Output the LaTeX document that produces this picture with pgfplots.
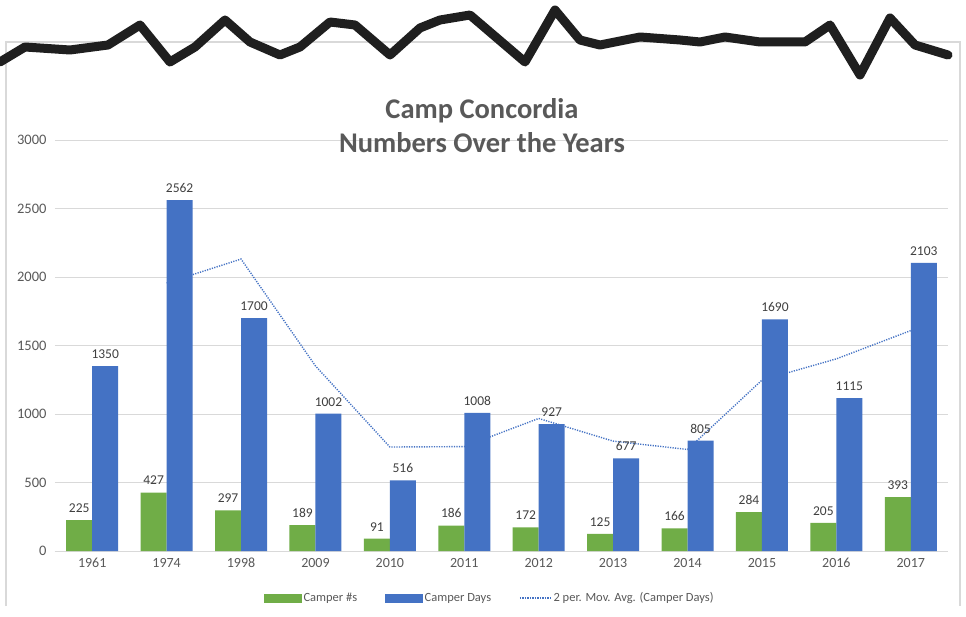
\documentclass[border=0pt]{standalone}
\usepackage{pgfplots}
\pgfplotsset{compat=1.18}
\usepackage{fontspec}
\setmainfont{Carlito}
\definecolor{cgreen}{HTML}{70AD47}
\definecolor{cblue}{HTML}{4472C4}
\definecolor{ctext}{HTML}{595959}
\definecolor{cdark}{HTML}{404040}
\definecolor{cgrid}{HTML}{D9D9D9}
\begin{document}
\begin{tikzpicture}
\useasboundingbox (0,0) rectangle (966pt,616pt);
\fill[white] (0,0) rectangle (966pt,616pt);
\draw[cgrid, line width=1.2pt] (6pt,10pt) -- (6pt,574pt) -- (960pt,574pt) -- (960pt,10pt);
\begin{axis}[
  at={(55pt,65pt)}, anchor=south west,
  scale only axis, width=893pt, height=411pt,
  xmin=-0.5, xmax=11.5, ymin=0, ymax=3000,
  xtick={0,...,11},
  xticklabels={1961,1974,1998,2009,2010,2011,2012,2013,2014,2015,2016,2017},
  ytick={0,500,1000,1500,2000,2500,3000},
  ymajorgrids, grid style={cgrid, line width=0.8pt},
  axis x line*=bottom, axis y line*=left,
  y axis line style={draw=none},
  x axis line style={cgrid, line width=0.8pt, -},
  tick style={draw=none},
  yticklabel style={font=\fontsize{14.5}{14.5}\selectfont, text=ctext, xshift=-5pt},
  xticklabel style={font=\fontsize{14}{14}\selectfont, text=ctext, yshift=-3pt, text height=9.5pt, text depth=0pt},
  /pgf/number format/assume math mode=true, /pgf/number format/1000 sep={},
  legend style={at={(0.487,-0.114)}, anchor=center, legend columns=3, draw=none, fill=none,
    font=\fontsize{12.5}{12.5}\selectfont, text=ctext,
    /tikz/every even column/.append style={column sep=26pt}},
  clip=false,
]
\addlegendimage{legend image code/.code={\fill[cgreen] (-4pt,-4pt) rectangle (33pt,4pt);}}
\addlegendentry{Camper \#s}
\addlegendimage{legend image code/.code={\fill[cblue] (-4pt,-4pt) rectangle (33pt,4pt);}}
\addlegendentry{Camper Days}
\addplot[cblue, line width=1.4pt, dash pattern=on 1.2pt off 1.3pt, legend image code/.code={\draw[cblue, line width=1.4pt, dash pattern=on 1.2pt off 1.3pt] (-4pt,0pt) -- (27pt,0pt);}]
  coordinates {(1,1956) (2,2131) (3,1351) (4,759) (5,762) (6,967.5) (7,802) (8,741) (9,1247.5) (10,1402.5) (11,1609)};
\addlegendentry{2 per. Mov. Avg. (Camper Days)}
\addplot[ybar, bar width=26pt, bar shift=-13pt, fill=cgreen, draw=none, forget plot,
  nodes near coords, every node near coord/.append style={font=\fontsize{13.5}{13.5}\selectfont, text=cdark, xshift=-13pt, yshift=4pt}]
  coordinates {(0,225) (1,427) (2,297) (3,189) (4,91) (5,186) (6,172) (7,125) (8,166) (9,284) (10,205) (11,393)};
\addplot[ybar, bar width=26pt, bar shift=13pt, fill=cblue, draw=none, forget plot,
  nodes near coords, every node near coord/.append style={font=\fontsize{13.5}{13.5}\selectfont, text=cdark, xshift=13pt, yshift=4pt}]
  coordinates {(0,1350) (1,2562) (2,1700) (3,1002) (4,516) (5,1008) (6,927) (7,677) (8,805) (9,1690) (10,1115) (11,2103)};
\end{axis}
\node[font=\bfseries\fontsize{28.5}{34}\selectfont, text=ctext, align=center] at (482pt,490pt) {Camp Concordia\\Numbers Over the Years};
\begin{scope}[x=1pt,y=-1pt,shift={(0,616pt)}]
\draw[line width=9pt, line join=round, line cap=round, black!88]
 (0,62) -- (25,47) -- (70,50) -- (108,45) -- (140,25) -- (170,62) -- (195,47) -- (225,20) -- (250,42) -- (280,55) -- (300,47) -- (330,22) -- (355,25) -- (390,55) -- (420,28) -- (440,20) -- (470,15) -- (525,62) -- (555,10) -- (580,40) -- (600,45) -- (640,37) -- (680,40) -- (700,42) -- (725,37) -- (760,42) -- (805,42) -- (830,25) -- (860,75) -- (890,18) -- (915,45) -- (948,55);
\end{scope}
\end{tikzpicture}
\end{document}
